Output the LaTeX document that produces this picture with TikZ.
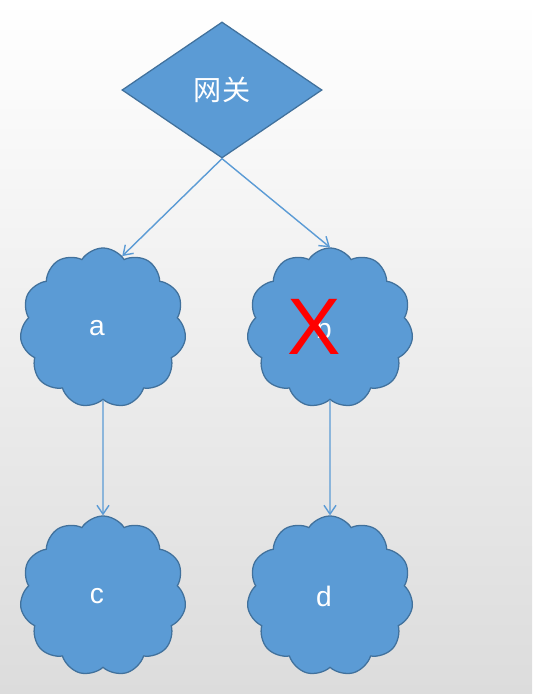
\documentclass[tikz,border=0pt]{standalone}
\usepackage{fontspec}
\setmainfont{Liberation Sans}
\newfontfamily\cjk{Noto Sans CJK SC}
\usetikzlibrary{arrows.meta,shapes.geometric,shapes.symbols}
\definecolor{Fill}{HTML}{5B9BD5}
\definecolor{Edge}{HTML}{41719C}
\definecolor{Wire}{HTML}{5B9BD5}
\definecolor{Floor}{HTML}{DCDCDC}
\tikzset{
  gate/.style={diamond,draw=Edge,fill=Fill,line width=0.9pt,minimum width=5cm,minimum height=3.4cm,inner sep=0pt,text=white,font=\cjk\fontsize{20}{24}\selectfont},
  net/.style={cloud,cloud puffs=11,cloud puff arc=115,aspect=1.04,draw=Edge,fill=Fill,line width=0.9pt,minimum width=4.15cm,minimum height=4cm,text=white,font=\fontsize{20}{24}\selectfont,execute at begin node={\hspace*{-0.3cm}}},
  arr/.style={-{Straight Barb[length=2.2mm,width=3mm]},draw=Wire,line width=1pt},
  cross/.style={text=red,font=\fontsize{57}{60}\selectfont}
}

\begin{document}
\begin{tikzpicture}[x=0.025cm,y=-0.025cm]
  % background
  \shade[top color=white,bottom color=Floor] (0,0) rectangle (532,694);
  \useasboundingbox (0,0) rectangle (532,694);
  \node[gate] (gw) at (222,90) {网关};
  \node[net] (a) at (103,328) {a};
  \node[net] (b) at (330,328) {b};
  \node[net] (c) at (103,596) {c};
  \node[net] (d) at (330,596) {d};
  \node[cross] (x) at (314,327) {X};
  \draw[arr] (gw.south) -- (a.75);
  \draw[arr] (gw.south) -- (b.north);
  \draw[arr] (a) -- (c);
  \draw[arr] (b) -- (d);
\end{tikzpicture}
\end{document}
